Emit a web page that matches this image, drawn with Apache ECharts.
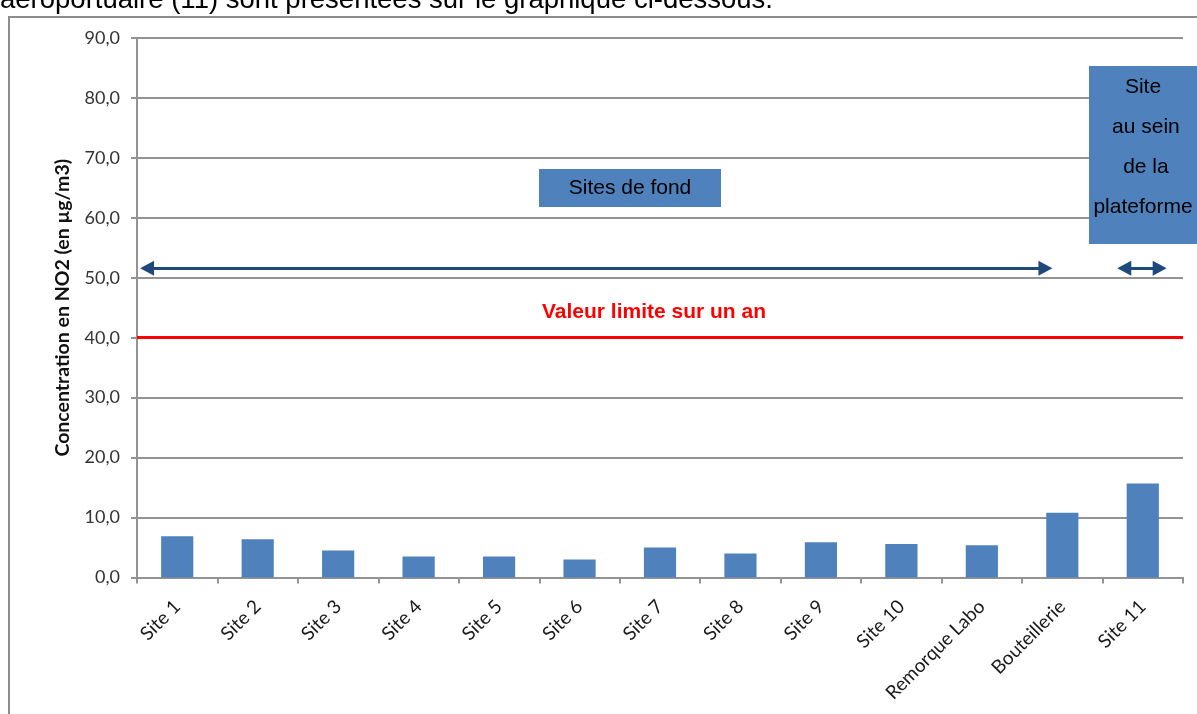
<!DOCTYPE html>
<html>
<head>
<meta charset="utf-8">
<title>Concentration en NO2</title>
<script src="https://cdn.jsdelivr.net/npm/echarts@6/dist/echarts.min.js"></script>
<style>
  html, body { margin: 0; padding: 0; background: #fff; }
  #chart { width: 1197px; height: 714px; }
</style>
</head>
<body>
<div id="chart"></div>
<script>
// Measurement sites (x categories)
const categories = ['Site 1', 'Site 2', 'Site 3', 'Site 4', 'Site 5', 'Site 6', 'Site 7',
  'Site 8', 'Site 9', 'Site 10', 'Remorque Labo', 'Bouteillerie', 'Site 11'];

// Mean NO2 concentration per site (µg/m3)
const no2Values = [6.9, 6.4, 4.5, 3.5, 3.5, 3.0, 5.0, 4.0, 5.9, 5.6, 5.4, 10.8, 15.7];

// Y axis range and step
const yMin = 0;
const yMax = 90;
const yStep = 10;

// Annual limit value (µg/m3)
const limitValue = 40;
const limitLabel = 'Valeur limite sur un an';

// Span arrows, expressed in category-band units (0 = left edge, 13 = right edge)
const arrowLevel = 51.6;
const backgroundSpan = [0.125, 11.29];
const platformSpan = [12.27, 12.71];

const introText = 'aéroportuaire (11) sont présentées sur le graphique ci-dessous.';
const backgroundBoxText = 'Sites de fond';
const platformBoxLines = ['Site', ' au sein', ' de la', 'plateforme'];

const chart = echarts.init(document.getElementById('chart'));

const gridColor = '#939393';
const boxBlue = '#4F81BD';
const arrowBlue = '#1F497D';

function boxText(text, x, y, size) {
  return {
    type: 'text',
    z: 100,
    x: x,
    y: y,
    style: {
      text: text,
      fontFamily: 'Liberation Sans',
      fontSize: size,
      fill: '#000',
      textAlign: 'center',
      textVerticalAlign: 'middle'
    }
  };
}

const option = {
  animation: false,
  backgroundColor: '#fff',
  grid: { left: 137, right: 14, top: 38, bottom: 136.5, containLabel: false },
  xAxis: [
    {
      type: 'category',
      data: categories,
      boundaryGap: true,
      axisLine: { show: true, lineStyle: { color: gridColor, width: 2 } },
      axisTick: { show: true, length: 6, lineStyle: { color: gridColor, width: 2 } },
      axisLabel: {
        rotate: 45,
        margin: 26,
        color: '#1a1a1a',
        fontFamily: 'Lato',
        fontSize: 19
      },
      splitLine: { show: false }
    },
    {
      type: 'value',
      min: 0,
      max: categories.length,
      show: false
    }
  ],
  yAxis: {
    type: 'value',
    min: yMin,
    max: yMax,
    interval: yStep,
    name: 'Concentration en NO2 (en µg/m3)',
    nameLocation: 'middle',
    nameRotate: 90,
    nameGap: 64,
    nameTextStyle: { fontFamily: 'Lato', fontWeight: 'bold', fontSize: 19.5, color: '#111' },
    axisLine: { show: true, lineStyle: { color: gridColor, width: 2 } },
    axisTick: { show: true, length: 6, lineStyle: { color: gridColor, width: 2 } },
    axisLabel: {
      margin: 17,
      color: '#333',
      fontFamily: 'Lato',
      fontSize: 18,
      formatter: v => v.toFixed(1).replace('.', ',')
    },
    splitLine: { show: true, lineStyle: { color: gridColor, width: 2 } }
  },
  series: [
    {
      name: 'NO2',
      type: 'bar',
      data: no2Values,
      barWidth: '40%',
      itemStyle: { color: boxBlue },
      z: 3,
      markLine: {
        silent: true,
        symbol: ['none', 'none'],
        data: [{ yAxis: limitValue }],
        lineStyle: { color: '#ff0000', width: 3, type: 'solid' },
        label: {
          show: true,
          position: 'middle',
          distance: [0, 15],
          offset: [-6, 0],
          formatter: limitLabel,
          color: '#ff0000',
          fontFamily: 'Liberation Sans',
          fontWeight: 'bold',
          fontSize: 21
        }
      }
    },
    {
      name: 'spans',
      type: 'line',
      xAxisIndex: 1,
      data: [],
      markLine: {
        silent: true,
        symbol: ['triangle', 'triangle'],
        symbolSize: [15, 14],
        lineStyle: { color: arrowBlue, width: 3, type: 'solid' },
        label: { show: false },
        data: [
          [{ coord: [backgroundSpan[0], arrowLevel] }, { coord: [backgroundSpan[1], arrowLevel] }],
          [{ coord: [platformSpan[0], arrowLevel] }, { coord: [platformSpan[1], arrowLevel] }]
        ]
      }
    }
  ],
  graphic: [
    {
      type: 'rect',
      z: 0,
      shape: { x: 9, y: 17, width: 1400, height: 900 },
      style: { fill: 'none', stroke: '#8c8c8c', lineWidth: 2 }
    },
    {
      type: 'text',
      x: 0,
      y: 14,
      style: {
        text: introText,
        fontFamily: 'Liberation Sans',
        fontSize: 27.5,
        fill: '#000',
        textVerticalAlign: 'bottom'
      }
    },
    {
      type: 'rect',
      z: 90,
      shape: { x: 539, y: 169, width: 182, height: 38 },
      style: { fill: boxBlue }
    },
    boxText(backgroundBoxText, 630, 188, 21),
    {
      type: 'rect',
      z: 90,
      shape: { x: 1089, y: 66, width: 120, height: 178 },
      style: { fill: boxBlue }
    }
  ].concat(platformBoxLines.map((line, i) => boxText(line, 1143, 87 + i * 40, 21)))
};

chart.setOption(option);
</script>
</body>
</html>
